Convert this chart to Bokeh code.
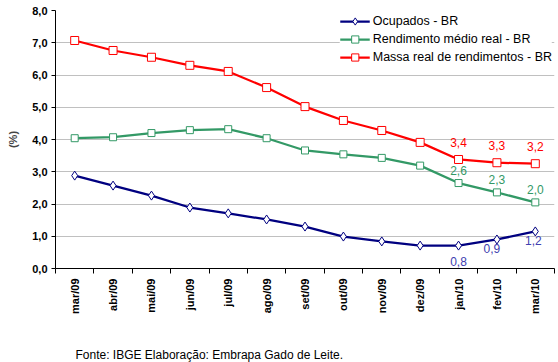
import numpy as np
from bokeh.plotting import figure
from bokeh.models import Range1d, FixedTicker, Legend, LegendItem, Title, ColumnDataSource
from bokeh.embed import file_html
from bokeh.resources import INLINE
from bokeh.core.properties import value

# ---- data ----
months = ["mar/09", "abr/09", "mai/09", "jun/09", "jul/09", "ago/09", "set/09",
          "out/09", "nov/09", "dez/09", "jan/10", "fev/10", "mar/10"]
ocupados = [2.88, 2.57, 2.26, 1.89, 1.71, 1.52, 1.30, 0.99, 0.84, 0.71, 0.71, 0.90, 1.15]
rendimento = [4.04, 4.07, 4.20, 4.29, 4.32, 4.04, 3.66, 3.54, 3.43, 3.19, 2.65, 2.36, 2.05]
massa = [7.07, 6.76, 6.55, 6.30, 6.11, 5.61, 5.02, 4.59, 4.28, 3.91, 3.38, 3.28, 3.25]

series_names = ["Ocupados - BR", "Rendimento médio real - BR", "Massa real de rendimentos - BR"]

label_months = ["jan/10", "fev/10", "mar/10"]
ocupados_labels = ["0,8", "0,9", "1,2"]
rendimento_labels = ["2,6", "2,3", "2,0"]
massa_labels = ["3,4", "3,3", "3,2"]

y_ticks = [0, 1, 2, 3, 4, 5, 6, 7, 8]
y_tick_labels = ["0,0", "1,0", "2,0", "3,0", "4,0", "5,0", "6,0", "7,0", "8,0"]
y_axis_label = "(%)"
footer_text = "Fonte: IBGE Elaboração: Embrapa Gado de Leite."

# ---- styles ----
FONT = "Arial"
BLUE = "#000080"
GREEN = "#339966"
RED = "#FF0000"
BLUE_LBL = "#4040B0"

xs = np.arange(len(months)) + 0.5
pos = {m: x for m, x in zip(months, xs)}
lx = [pos[m] for m in label_months]
idx = [months.index(m) for m in label_months]

p = figure(width=558, height=362, output_backend="svg", toolbar_location=None,
           x_range=Range1d(0, len(months)), y_range=Range1d(0, 8),
           min_border_top=10, min_border_right=4, min_border_left=55, min_border_bottom=0)
p.outline_line_color = None
p.background_fill_color = "white"
p.border_fill_color = "white"

# axes
xa = p.xaxis[0]
xa.ticker = FixedTicker(ticks=list(xs), minor_ticks=list(range(len(months) + 1)))
xa.major_label_overrides = {float(x): m for x, m in zip(xs, months)}
xa.major_label_orientation = np.pi / 2
xa.major_tick_out = 0
xa.major_tick_in = 0
xa.minor_tick_out = 5
xa.minor_tick_in = 0
xa.minor_tick_line_color = "black"
xa.axis_line_color = "black"
xa.major_label_text_font = FONT
xa.major_label_text_font_size = "11px"
xa.major_label_text_font_style = "bold"
xa.major_label_text_color = "black"
xa.major_label_standoff = 5

ya = p.yaxis[0]
ya.ticker = FixedTicker(ticks=y_ticks, minor_ticks=[])
ya.major_label_overrides = {t: l for t, l in zip(y_ticks, y_tick_labels)}
ya.major_tick_out = 4
ya.major_tick_in = 0
ya.axis_line_color = "black"
ya.major_label_text_font = FONT
ya.major_label_text_font_size = "11px"
ya.major_label_text_font_style = "bold"
ya.major_label_text_color = "black"
ya.major_label_standoff = 4
ya.axis_label = y_axis_label
ya.axis_label_text_font = FONT
ya.axis_label_text_font_size = "11px"
ya.axis_label_text_font_style = "bold"
ya.axis_label_standoff = 10

p.xgrid.grid_line_color = None
p.ygrid.grid_line_color = "#C0C0C0"
p.ygrid.grid_line_width = 1

# series
l1 = p.line(xs, ocupados, line_color=BLUE, line_width=2.25)
s1 = p.scatter(xs, ocupados, marker="diamond", size=9, line_color=BLUE, fill_color="white", line_width=1)
l2 = p.line(xs, rendimento, line_color=GREEN, line_width=2.25)
s2 = p.scatter(xs, rendimento, marker="square", size=7, line_color=GREEN, fill_color="white", line_width=1)
l3 = p.line(xs, massa, line_color=RED, line_width=2.25)
s3 = p.scatter(xs, massa, marker="square", size=8, line_color=RED, fill_color="white", line_width=1)

# data labels
common = dict(text_font=value(FONT), text_font_size="12px", text_align="center", text_baseline="middle")
p.text(lx, [massa[i] for i in idx], text=massa_labels, text_color=RED, y_offset=-17, **common)
p.text(lx, [rendimento[i] for i in idx], text=rendimento_labels, text_color=GREEN, y_offset=-13, **common)
blue_dy = [16, 9, 9]
blue_dx = [0, -5, -2]
src_b = ColumnDataSource(dict(x=lx, y=[ocupados[i] for i in idx], t=ocupados_labels, dx=blue_dx, dy=blue_dy))
p.text("x", "y", text="t", source=src_b, text_color=BLUE_LBL, x_offset="dx", y_offset="dy", **common)

legend = Legend(items=[LegendItem(label=series_names[0], renderers=[l1, s1]),
                       LegendItem(label=series_names[1], renderers=[l2, s2]),
                       LegendItem(label=series_names[2], renderers=[l3, s3])],
                location="top_right", orientation="vertical")
legend.background_fill_color = "white"
legend.background_fill_alpha = 1
legend.border_line_color = None
legend.label_text_font = FONT
legend.label_text_font_size = "12.5px"
legend.label_text_color = "black"
legend.glyph_width = 30
legend.glyph_height = 18
legend.label_height = 18
legend.spacing = 0
legend.padding = 5
legend.margin = 2
legend.label_standoff = 3
p.add_layout(legend)

spacer = Title(text=" ", text_font=FONT, text_font_size="12px", standoff=12)
p.add_layout(spacer, "below")
footer = Title(text=footer_text, align="left", offset=20, text_font=FONT,
               text_font_size="12px", text_font_style="normal", text_color="black", standoff=2)
p.add_layout(footer, "below")

open("out.html", "w").write(file_html(p, INLINE))
